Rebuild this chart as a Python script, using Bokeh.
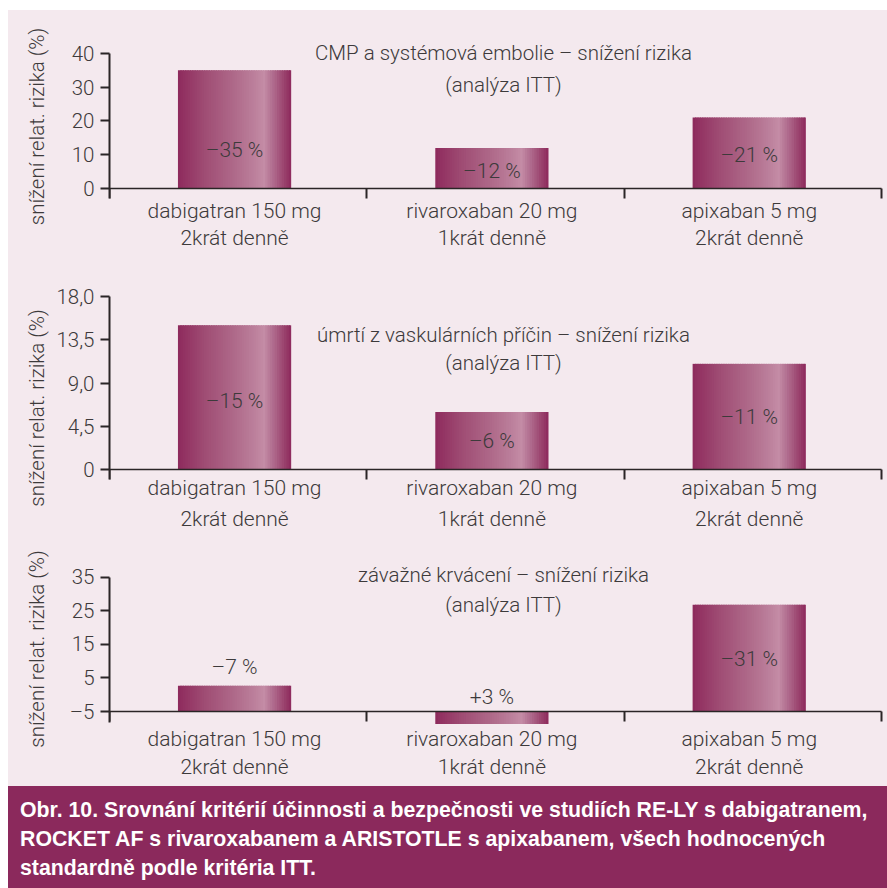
import math
from bokeh.plotting import figure
from bokeh.models import Range1d, FixedTicker, LinearAxis, Div
from bokeh.layouts import column, row
from bokeh.embed import file_html
from bokeh.resources import INLINE
from bokeh.core.properties import value

# ---------------- data ----------------
cat_names = ["dabigatran 150 mg", "rivaroxaban 20 mg", "apixaban 5 mg"]
cat_doses = ["2krát denně", "1krát denně", "2krát denně"]

p1_title = ["CMP a systémová embolie – snížení rizika", "(analýza ITT)"]
p1_values = [35, 12, 21]
p1_labels = ["–35 %", "–12 %", "–21 %"]
p1_ticks = [0, 10, 20, 30, 40]
p1_tick_labels = ["0", "10", "20", "30", "40"]

p2_title = ["úmrtí z vaskulárních příčin – snížení rizika", "(analýza ITT)"]
p2_values = [15, 6, 11]
p2_labels = ["–15 %", "–6 %", "–11 %"]
p2_ticks = [0, 4.5, 9, 13.5, 18]
p2_tick_labels = ["0", "4,5", "9,0", "13,5", "18,0"]

p3_title = ["závažné krvácení – snížení rizika", "(analýza ITT)"]
p3_values = [7.7, -3.7, 31.8]          # bar heights measured from the -5 baseline
p3_labels = ["–7 %", "+3 %", "–31 %"]
p3_ticks = [-5, 5, 15, 25, 35]
p3_tick_labels = ["–5", "5", "15", "25", "35"]

y_label = "snížení relat. rizika (%)"

caption_lines = [
    "Obr. 10. Srovnání kritérií účinnosti a bezpečnosti ve studiích RE-LY s dabigatranem,",
    "ROCKET AF s rivaroxabanem a ARISTOTLE s apixabanem, všech hodnocených",
    "standardně podle kritéria ITT.",
]

# ---------------- style ----------------
FONT = "Roboto Light"
FS_TITLE = "20.5px"
FS = "21px"
TXT = "#3d3a3b"
AX = "#2a2526"
BG = "#f4e9ee"
BAND = "#8b295c"
STRIP_W = 42
W = 837
XEND = 3.0233
BAR_W = 0.44
SHIFT = -0.014

STOPS = [(0.0, (141, 41, 92)), (0.05, (146, 50, 98)), (0.25, (160, 78, 117)),
         (0.5, (175, 106, 138)), (0.68, (188, 128, 156)), (0.76, (196, 140, 166)),
         (0.84, (176, 108, 142)), (0.93, (156, 70, 112)), (1.0, (141, 41, 92))]


def grad(t):
    for (t0, c0), (t1, c1) in zip(STOPS[:-1], STOPS[1:]):
        if t0 <= t <= t1:
            f = (t - t0) / (t1 - t0)
            c = [round(a + (b - a) * f) for a, b in zip(c0, c1)]
            return "#%02x%02x%02x" % tuple(c)
    return "#%02x%02x%02x" % STOPS[-1][1]


def txt(p, xs, ys, texts, size=FS, **kw):
    p.text(x=xs, y=ys, text=texts, text_font=value(FONT), text_font_size=size,
           text_color=TXT, text_align="center", text_baseline="middle", **kw)


def make_panel(values, base, labels, label_y, ticks, tick_labels, title, title_y,
               y0, y1, bounds, height, b_bottom, cat_y, xl_standoff):
    p = figure(width=W, height=height, x_range=Range1d(0, XEND), y_range=Range1d(y0, y1),
               output_backend="svg", toolbar_location=None, title=None,
               min_border_left=59, min_border_right=0, min_border_top=0,
               min_border_bottom=b_bottom, background_fill_color=BG,
               border_fill_color=BG, outline_line_color=None)
    p.grid.visible = False

    xs = [i + 0.5 + SHIFT for i in range(len(values))]
    N = 48
    L, R, B, T, C = [], [], [], [], []
    for xc, v in zip(xs, values):
        x0 = xc - BAR_W / 2
        step = BAR_W / N
        for j in range(N):
            L.append(x0 + j * step)
            R.append(min(x0 + (j + 1.6) * step, x0 + BAR_W))
            B.append(min(base, base + v))
            T.append(max(base, base + v))
            C.append(grad((j + 0.5) / N))
    p.quad(left=L, right=R, bottom=B, top=T, fill_color=C, line_color=None)

    txt(p, xs, label_y, labels)
    txt(p, [1.531] * len(title), title_y, title, size=FS_TITLE)

    # axis line + boundary ticks at the baseline
    rule = LinearAxis(fixed_location=base, bounds=(0, 3),
                      ticker=FixedTicker(ticks=[], minor_ticks=[0, 1, 2, 3]),
                      major_tick_in=0, major_tick_out=0, minor_tick_in=0, minor_tick_out=10,
                      minor_tick_line_color=AX, minor_tick_line_width=2,
                      axis_line_color=AX, axis_line_width=1.5)
    p.add_layout(rule, "below")

    la = p.xaxis[0]
    if cat_y is None:
        la.ticker = FixedTicker(ticks=xs)
        la.major_label_overrides = {x: n + "\n" + d for x, n, d in zip(xs, cat_names, cat_doses)}
        la.axis_line_color = None
        la.major_tick_line_color = None
        la.minor_tick_line_color = None
        la.major_tick_in = 0
        la.major_tick_out = 0
        la.minor_tick_in = 0
        la.minor_tick_out = 0
        la.major_label_standoff = xl_standoff
        la.major_label_text_font = FONT
        la.major_label_text_font_size = FS
        la.major_label_text_color = TXT
        la.major_label_text_line_height = 1.19
    else:
        la.visible = False
        txt(p, xs, [cat_y[0]] * 3, cat_names)
        txt(p, xs, [cat_y[1]] * 3, cat_doses)

    ya = p.yaxis[0]
    ya.bounds = bounds
    ya.ticker = FixedTicker(ticks=ticks)
    ya.major_label_overrides = {t: s for t, s in zip(ticks, tick_labels)}
    ya.major_tick_in = 0
    ya.major_tick_out = 9
    ya.major_tick_line_color = AX
    ya.major_tick_line_width = 2
    ya.minor_tick_out = 0
    ya.minor_tick_in = 0
    ya.axis_line_color = AX
    ya.axis_line_width = 2
    ya.major_label_standoff = 6
    ya.major_label_text_font = FONT
    ya.major_label_text_font_size = "20.5px"
    ya.major_label_text_color = TXT
    return p


p1 = make_panel(p1_values, 0, p1_labels, [11.3, 5.3, 9.8], p1_ticks, p1_tick_labels,
                p1_title, [40.0, 30.8], -18.37, 52.74, (-2.963, 40), 240, 0,
                (-6.52, -14.81), 0)
p2 = make_panel(p2_values, 0, p2_labels, [7.1, 3.0, 5.5], p2_ticks, p2_tick_labels,
                p2_title, [13.95, 11.04], -9.834, 22.77, (-1.04, 18), 314, 0,
                (-1.94, -5.06), 0)
p3 = make_panel(p3_values, -5, p3_labels, [8.2, -0.75, 10.7], p3_ticks, p3_tick_labels,
                p3_title, [35.48, 26.55], -8.869, 38.75, (-8.2, 35), 222, 62,
                None, 2)

# strip on the left holding the three rotated y-axis titles
STRIP_H = 776
strip = figure(width=STRIP_W, height=STRIP_H, x_range=Range1d(0, STRIP_W),
               y_range=Range1d(0, STRIP_H), output_backend="svg", toolbar_location=None,
               title=None, min_border=0, background_fill_color=BG, border_fill_color=BG,
               outline_line_color=None)
strip.axis.visible = False
strip.grid.visible = False
txt(strip, [28, 28, 28], [660, 378.5, 137.5], [y_label] * 3, size="20.5px",
    angle=math.pi / 2)

cap_html = ('<div style="box-sizing:border-box;width:879px;height:102px;background:%s;'
            'color:#ffffff;font-family:\'Liberation Sans\',sans-serif;font-weight:bold;'
            'font-size:21.3px;line-height:29px;padding:10px 0 0 12px;white-space:nowrap;">%s</div>'
            % (BAND, "<br>".join(caption_lines)))
cap = Div(text=cap_html, width=STRIP_W + W, height=102, margin=0)

panels = column(p1, p2, p3, spacing=0, styles={"background-color": BG})
top = row(strip, panels, spacing=0, styles={"background-color": BG})
layout = column(top, cap, spacing=0, margin=(10, 0, 0, 8))
open("out.html", "w").write(file_html(layout, INLINE))
